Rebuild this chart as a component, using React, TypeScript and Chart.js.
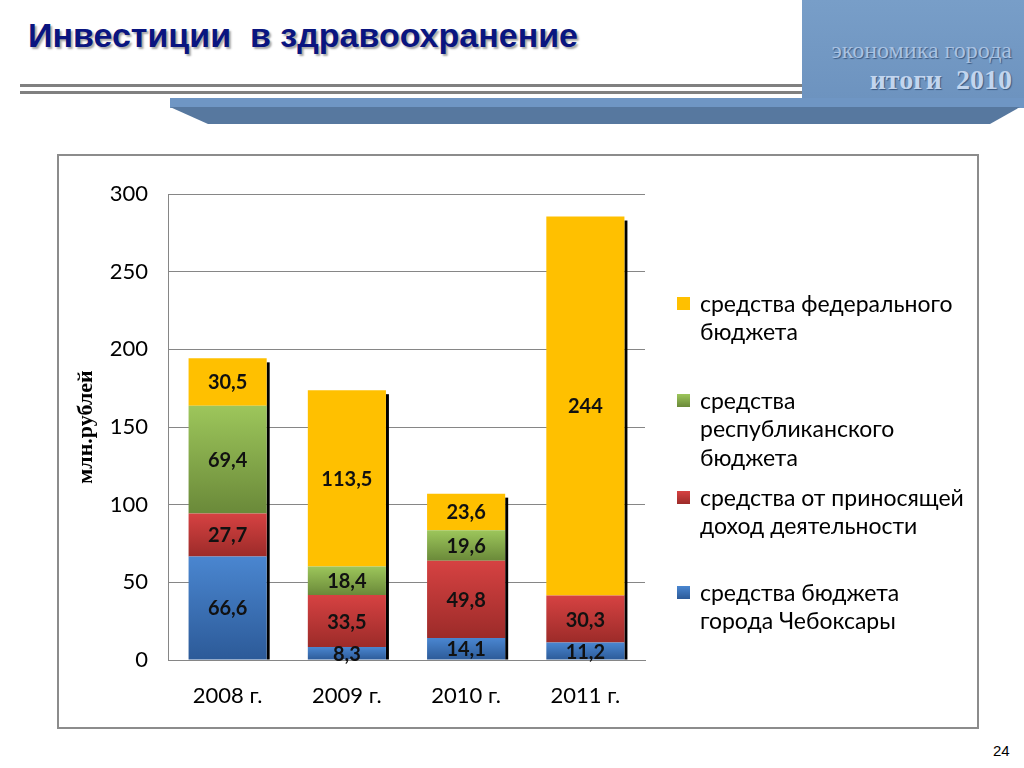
import React, { useEffect, useRef } from "react";
import { Chart, registerables } from "chart.js";

Chart.register(...registerables);

// ---- data ----
const categories = ["2008 г.", "2009 г.", "2010 г.", "2011 г."];
const yTicks = [0, 50, 100, 150, 200, 250, 300];
const cityBudget = [66.6, 8.3, 14.1, 11.2];
const incomeActivity = [27.7, 33.5, 49.8, 30.3];
const republicBudget = [69.4, 18.4, 19.6, 0];
const federalBudget = [30.5, 113.5, 23.6, 244];

const legendFederal = ["средства федерального", "бюджета"];
const legendRepublic = ["средства", "республиканского", "бюджета"];
const legendIncome = ["средства от приносящей", "доход деятельности"];
const legendCity = ["средства бюджета", "города Чебоксары"];

const seriesValues = [cityBudget, incomeActivity, republicBudget, federalBudget];
const seriesLegend = [legendCity, legendIncome, legendRepublic, legendFederal];
// [top colour, bottom colour] for each series
const seriesColors: [string, string][] = [
  ["#4a86d0", "#2c5a98"],
  ["#d64242", "#9c2b29"],
  ["#9dc65b", "#6a8939"],
  ["#ffc000", "#ffc000"],
];

const FONT = "Lato, 'Noto Sans', sans-serif";

function fmt(v: number) {
  return String(v).replace(".", ",");
}

function gradientFor(di: number) {
  return (c: any) => {
    const chart = c.chart;
    const ys = chart.scales && chart.scales.y;
    const [top, bot] = seriesColors[di];
    if (!ys || c.type !== "data" || top === bot) return top;
    const i = c.dataIndex;
    let base = 0;
    for (let k = 0; k < di; k++) base += seriesValues[k][i];
    const v = seriesValues[di][i];
    const pTop = ys.getPixelForValue(base + v);
    const pBot = ys.getPixelForValue(base);
    if (!isFinite(pTop) || !isFinite(pBot) || pBot - pTop < 1) return top;
    const g = chart.ctx.createLinearGradient(0, pTop, 0, pBot);
    g.addColorStop(0, top);
    g.addColorStop(1, bot);
    return g;
  };
}

const shadowPlugin = {
  id: "barShadow",
  beforeDatasetsDraw(chart: any) {
    const ctx = chart.ctx;
    ctx.save();
    ctx.fillStyle = "#000";
    const n = chart.data.labels.length;
    for (let i = 0; i < n; i++) {
      let top = Infinity;
      let bottom = -Infinity;
      let right = 0;
      chart.data.datasets.forEach((ds: any, di: number) => {
        if (!ds.data[i]) return;
        const el = chart.getDatasetMeta(di).data[i];
        const { x, y, base, width } = el.getProps(["x", "y", "base", "width"], true);
        top = Math.min(top, y);
        bottom = Math.max(bottom, base);
        right = x + width / 2;
      });
      if (!isFinite(top)) continue;
      const t = top + 4;
      ctx.fillRect(right, t, 3, bottom - t);
    }
    ctx.restore();
  },
};

const labelPlugin = {
  id: "segLabels",
  afterDatasetsDraw(chart: any) {
    const ctx = chart.ctx;
    ctx.save();
    ctx.font = `bold 20px ${FONT}`;
    ctx.fillStyle = "#111";
    ctx.textAlign = "center";
    ctx.textBaseline = "middle";
    chart.data.datasets.forEach((ds: any, di: number) => {
      const meta = chart.getDatasetMeta(di);
      meta.data.forEach((el: any, i: number) => {
        const v = ds.data[i];
        if (!v) return;
        const { x, y, base } = el.getProps(["x", "y", "base"], true);
        ctx.fillText(fmt(v), x, (y + base) / 2 + 1);
      });
    });
    ctx.restore();
  },
};

function ChartBox() {
  const ref = useRef<HTMLCanvasElement | null>(null);
  useEffect(() => {
    if (!ref.current) return;
    const chart = new Chart(ref.current, {
      type: "bar",
      data: {
        labels: categories,
        datasets: seriesValues.map((vals, di) => ({
          label: seriesLegend[di].join(" "),
          data: vals,
          backgroundColor: gradientFor(di),
          borderWidth: 0,
          barPercentage: 0.655,
          categoryPercentage: 1,
        })),
      },
      options: {
        animation: false,
        responsive: false,
        maintainAspectRatio: false,
        layout: { padding: { top: 37, right: 330, bottom: 0, left: 0 } },
        plugins: { legend: { display: false }, tooltip: { enabled: false } },
        scales: {
          x: {
            stacked: true,
            grid: { display: false, drawTicks: false },
            border: { color: "#868686", width: 1 },
            ticks: { font: { family: FONT, size: 22 }, color: "#000", padding: 23 },
            afterFit: (s: any) => {
              s.height = 65;
            },
          },
          y: {
            stacked: true,
            min: yTicks[0],
            max: yTicks[yTicks.length - 1],
            afterBuildTicks: (s: any) => {
              s.ticks = yTicks.map((v) => ({ value: v }));
            },
            ticks: { font: { family: FONT, size: 22 }, color: "#000", padding: 20 },
            grid: { color: "#868686", drawTicks: false, lineWidth: 1 },
            border: { color: "#868686", width: 1 },
            title: {
              display: true,
              text: "млн.рублей",
              color: "#000",
              font: { family: "'Liberation Serif', serif", weight: "bold", size: 22 },
              padding: { top: 13, bottom: 0 },
            },
            afterFit: (s: any) => {
              s.width = 108;
            },
          },
        },
      },
      plugins: [shadowPlugin, labelPlugin],
    } as any);
    return () => chart.destroy();
  }, []);
  return <canvas ref={ref} width={915} height={568} style={{ position: "absolute", left: 60, top: 157, width: 915, height: 568 }} />;
}

const legendOrder = [3, 2, 1, 0];
const legendTops = [303, 400, 497, 592];

export default function App() {
  return (
    <div style={{ position: "absolute", left: 0, top: 0, width: 1024, height: 768, background: "#fff", overflow: "hidden" }}>
      {/* title */}
      <div
        style={{
          position: "absolute",
          left: 28,
          top: 17,
          fontFamily: "'Liberation Sans', Arial, sans-serif",
          fontWeight: "bold",
          fontSize: 34,
          lineHeight: "36px",
          color: "#0a1580",
          whiteSpace: "pre",
          textShadow: "2px 2px 2px rgba(0,0,0,0.35)",
        }}
      >
        {"Инвестиции  в здравоохранение"}
      </div>
      {/* double lines */}
      <div style={{ position: "absolute", left: 20, top: 84, width: 782, height: 3, background: "#808080" }} />
      <div style={{ position: "absolute", left: 20, top: 91, width: 782, height: 3, background: "#808080" }} />
      {/* header box */}
      <div style={{ position: "absolute", left: 802, top: 0, width: 222, height: 99, background: "linear-gradient(#789ec8, #6d93bf)" }} />
      <div style={{ position: "absolute", left: 170, top: 98, width: 854, height: 10, background: "#6f96c4" }} />
      <div
        style={{
          position: "absolute",
          left: 170,
          top: 107,
          width: 854,
          height: 17,
          background: "#57789f",
          clipPath: "polygon(0 0, 850px 0, 820px 17px, 38px 17px)",
        }}
      />
      <div
        style={{
          position: "absolute",
          right: 12,
          top: 38,
          fontFamily: "'Liberation Serif', serif",
          fontSize: 24,
          lineHeight: "24px",
          color: "#a9c2e2",
          whiteSpace: "pre",
          textShadow: "1px 1px 1px #3b5a82",
        }}
      >
        экономика города
      </div>
      <div
        style={{
          position: "absolute",
          right: 12,
          top: 66,
          fontFamily: "'Liberation Serif', serif",
          fontWeight: "bold",
          fontSize: 28,
          lineHeight: "28px",
          color: "#c2d5ee",
          whiteSpace: "pre",
          textShadow: "1px 1px 1px #3b5a82",
        }}
      >
        {"итоги  2010"}
      </div>
      {/* chart frame */}
      <div style={{ position: "absolute", left: 57, top: 154, width: 918, height: 571, border: "2px solid #8c8c8c" }} />
      <ChartBox />
      {/* legend */}
      {legendOrder.map((si, k) => (
        <div key={si}>
          <div
            style={{
              position: "absolute",
              left: 677,
              top: legendTops[k] - 6,
              width: 13,
              height: 13,
              background: `linear-gradient(${seriesColors[si][0]}, ${seriesColors[si][1]})`,
            }}
          />
          <div
            style={{
              position: "absolute",
              left: 700,
              top: legendTops[k] - 14.25,
              fontFamily: FONT,
              fontSize: 23,
              lineHeight: "28.5px",
              color: "#000",
              whiteSpace: "pre",
            }}
          >
            {seriesLegend[si].map((line, j) => (
              <div key={j}>{line}</div>
            ))}
          </div>
        </div>
      ))}
      <div style={{ position: "absolute", left: 993, top: 742, fontFamily: "'Liberation Sans', Arial, sans-serif", fontSize: 15, color: "#000" }}>24</div>
    </div>
  );
}
